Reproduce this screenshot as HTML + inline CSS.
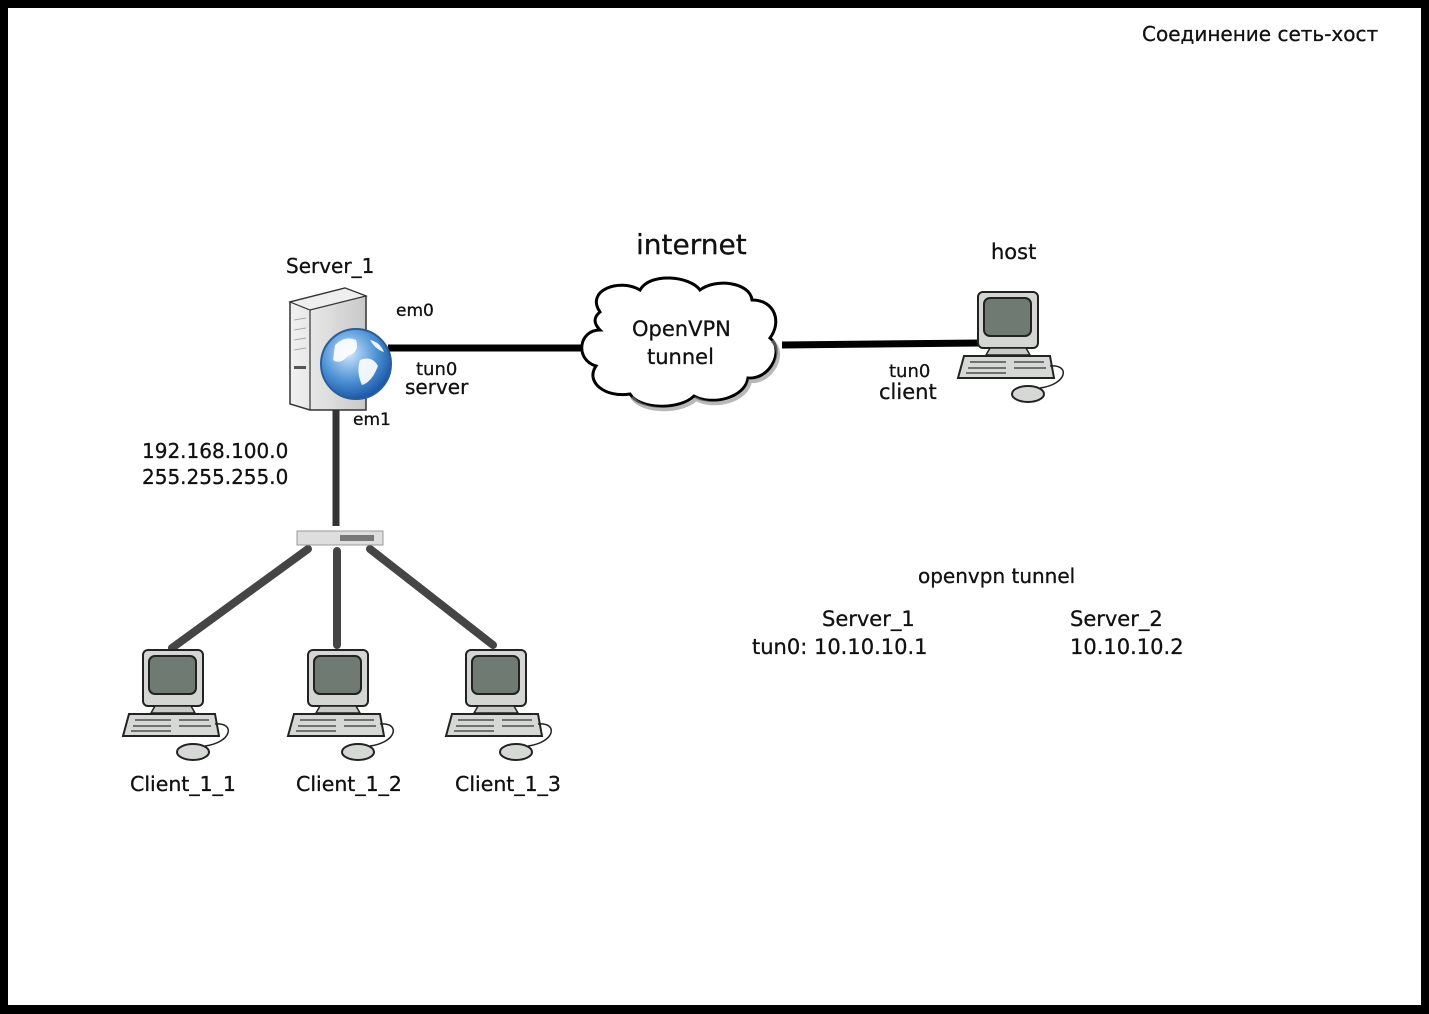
<!DOCTYPE html>
<html><head><meta charset="utf-8"><style>
html,body{margin:0;padding:0;background:#000;}
svg{display:block}
text{font-family:"DejaVu Sans","Liberation Sans",sans-serif;fill:#111;stroke:#111;stroke-width:0.3}
</style></head><body>
<svg width="1429" height="1014" viewBox="0 0 1429 1014" xmlns="http://www.w3.org/2000/svg">
<defs>
<radialGradient id="gl" cx="40%" cy="35%" r="65%"><stop offset="0" stop-color="#cfe6fb"/><stop offset="0.6" stop-color="#4f93d6"/><stop offset="1" stop-color="#1d5aa8"/></radialGradient>
<linearGradient id="tw" x1="0" x2="1"><stop offset="0" stop-color="#f2f2f2"/><stop offset="1" stop-color="#c9c9c9"/></linearGradient>
<g id="pc">
<rect x="0" y="0" width="60" height="56" rx="5" fill="#d4d6d4" stroke="#222" stroke-width="2"/>
<rect x="6" y="6" width="47" height="38" rx="6" fill="#6e7a72" stroke="#222" stroke-width="2"/>
<path d="M12 56 L48 56 L52 63 L8 63 Z" fill="#c8cac8" stroke="#222" stroke-width="1.5"/>
<path d="M-14 64 L72 64 L76 86 L-20 86 Z" fill="#d6d8d6" stroke="#222" stroke-width="2"/>
<g stroke="#333" stroke-width="1.2">
<line x1="-8" y1="70" x2="28" y2="70"/><line x1="-10" y1="76" x2="28" y2="76"/><line x1="-12" y1="81" x2="28" y2="81"/>
<line x1="36" y1="70" x2="66" y2="70"/><line x1="36" y1="76" x2="68" y2="76"/>
</g>
<path d="M72 74 C92 72 90 92 62 96" fill="none" stroke="#222" stroke-width="1.5"/>
<ellipse cx="50" cy="102" rx="16" ry="8" fill="#d6d8d6" stroke="#222" stroke-width="2"/>
</g>
</defs>
<rect x="8" y="8" width="1413" height="997" fill="#fff"/>
<text x="1142" y="41" font-size="20">Соединение сеть-хост</text>
<text x="636" y="254" font-size="28">internet</text>
<text x="286" y="273" font-size="20">Server_1</text>
<text x="991" y="259" font-size="21">host</text>
<text x="396" y="316" font-size="17">em0</text>
<text x="416" y="375" font-size="18">tun0</text>
<text x="405" y="394" font-size="20">server</text>
<text x="353" y="425" font-size="17">em1</text>
<text x="142" y="458" font-size="20">192.168.100.0</text>
<text x="142" y="484" font-size="20">255.255.255.0</text>
<text x="889" y="377" font-size="18">tun0</text>
<text x="879" y="399" font-size="21">client</text>
<text x="918" y="583" font-size="20">openvpn tunnel</text>
<text x="822" y="626" font-size="21">Server_1</text>
<text x="752" y="654" font-size="21">tun0: 10.10.10.1</text>
<text x="1070" y="626" font-size="21">Server_2</text>
<text x="1070" y="654" font-size="21">10.10.10.2</text>
<text x="130" y="791" font-size="20.5">Client_1_1</text>
<text x="296" y="791" font-size="20.5">Client_1_2</text>
<text x="455" y="791" font-size="20.5">Client_1_3</text>
<line x1="388" y1="348" x2="584" y2="348" stroke="#000" stroke-width="7"/>
<line x1="782" y1="345" x2="980" y2="343" stroke="#000" stroke-width="7"/>
<line x1="336" y1="408" x2="336" y2="526" stroke="#333" stroke-width="7"/>
<g stroke="#454545" stroke-width="8" stroke-linecap="round">
<line x1="308" y1="549" x2="172" y2="648"/>
<line x1="337" y1="551" x2="337" y2="645"/>
<line x1="370" y1="549" x2="493" y2="645"/>
</g>
<rect x="297" y="531" width="86" height="14" fill="#dedede" stroke="#999"/>
<rect x="340" y="535" width="34" height="6" fill="#777"/>
<path d="M290 302 L345 288 L366 296 L366 410 L310 410 L290 404 Z" fill="url(#tw)" stroke="#333" stroke-width="1.5"/>
<path d="M290 302 L345 288 L366 296 L310 310 Z" fill="#eee" stroke="#333" stroke-width="1.2"/>
<line x1="310" y1="310" x2="310" y2="410" stroke="#333" stroke-width="1.2"/>
<g stroke="#aaa"><line x1="294" y1="320" x2="306" y2="318"/><line x1="294" y1="330" x2="306" y2="328"/><line x1="294" y1="340" x2="306" y2="338"/><line x1="294" y1="350" x2="306" y2="348"/></g>
<rect x="294" y="366" width="12" height="3" fill="#555"/>
<circle cx="356" cy="364" r="35" fill="url(#gl)" stroke="#2a5d9a" stroke-width="2"/>
<path d="M335 345 Q345 335 356 340 Q360 352 348 356 Q340 365 333 360 Z M360 360 Q372 355 378 366 Q372 382 362 385 Q356 372 360 360 Z M370 340 Q380 342 384 352 Q376 350 370 340 Z" fill="#fff" opacity="0.9"/>
<path d="M600 312 C585 290 620 278 640 290 C650 272 690 276 700 290 C715 278 750 282 752 300 C775 300 782 322 770 338 C785 350 770 380 748 378 C745 398 712 406 694 396 C680 410 640 410 630 394 C605 398 585 382 596 366 C575 360 578 330 600 330 C592 322 595 316 600 312 Z" fill="#fff" stroke="#000" stroke-width="3"/>
<path d="M770 338 C785 350 770 380 748 378 C745 398 712 406 694 396 C680 410 640 410 630 394" fill="none" stroke="#888" stroke-width="4" transform="translate(2,3)" opacity="0.6"/>
<text x="632" y="336" font-size="21">OpenVPN</text>
<text x="647" y="364" font-size="21">tunnel</text>
<use href="#pc" x="143" y="650"/>
<use href="#pc" x="308" y="650"/>
<use href="#pc" x="466" y="650"/>
<use href="#pc" x="978" y="292"/>
</svg>
</body></html>
